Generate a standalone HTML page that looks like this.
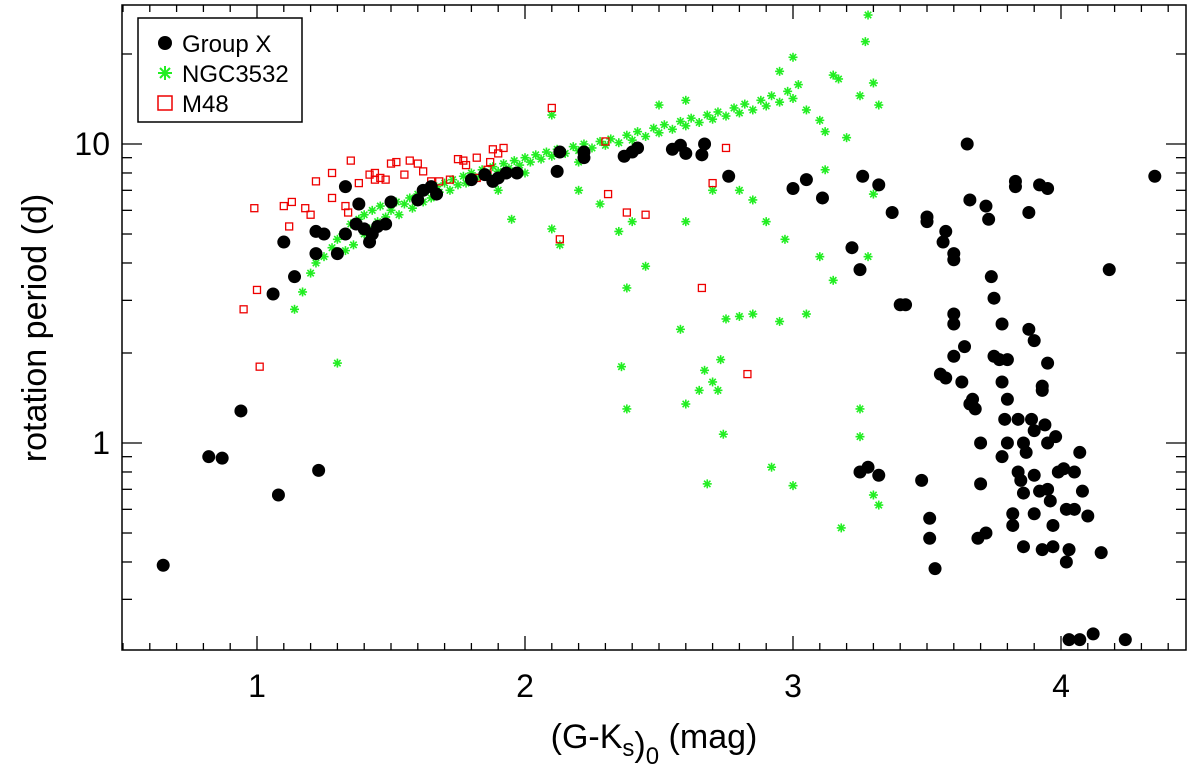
<!DOCTYPE html>
<html><head><meta charset="utf-8"><style>
body{margin:0;background:#fff}
svg{display:block;font-family:"Liberation Sans",Helvetica,Arial,sans-serif}
</style></head><body>
<svg id="chart" width="1200" height="764" viewBox="0 0 1200 764">
<rect x="0" y="0" width="1200" height="764" fill="#fff"/>
<g id="marks"></g>
<g id="axes"></g>
<rect x="122" y="5" width="1064" height="645" fill="none" stroke="#000" stroke-width="1.5"/>
<g>
<rect x="138" y="18" width="164" height="104" fill="#fff" stroke="#000" stroke-width="1.5"/>
<g><circle cx="165" cy="43" r="7" fill="#000"/><text x="182" y="52" font-size="24">Group X</text></g>
<g stroke="#22ee22" stroke-width="2"><line x1="158" y1="73" x2="172" y2="73"/><line x1="165" y1="66" x2="165" y2="80"/><line x1="160" y1="68" x2="170" y2="78"/><line x1="160" y1="78" x2="170" y2="68"/></g>
<text x="182" y="82" font-size="24">NGC3532</text>
<g><rect x="158" y="96" width="14" height="14" fill="none" stroke="#e00" stroke-width="1.5"/><text x="182" y="112" font-size="24">M48</text></g>
</g>
<text x="654" y="748" font-size="34" text-anchor="middle">(G-K<tspan font-size="24" dy="8">s</tspan><tspan dy="0">)</tspan><tspan font-size="24" dy="8">0</tspan><tspan dy="-16"> (mag)</tspan></text>
<text transform="translate(46,328) rotate(-90)" font-size="34" text-anchor="middle">rotation period (d)</text>
</svg>
<script>
const groupX=[[0.65,0.39],[0.82,0.9],[0.87,0.89],[0.94,1.28],[1.06,3.15],[1.08,0.67],[1.1,4.7],[1.14,3.6],[1.22,5.1],[1.22,4.3],[1.23,0.81],[1.25,5.0],[1.3,4.3],[1.33,5.0],[1.33,7.2],[1.37,5.4],[1.38,6.3],[1.4,5.2],[1.42,4.7],[1.43,5.0],[1.45,5.3],[1.48,5.4],[1.5,6.4],[1.6,6.5],[1.62,7.0],[1.65,7.2],[1.67,6.8],[1.8,7.6],[1.85,7.9],[1.88,7.5],[1.9,7.7],[1.93,8.0],[1.97,8.0],[2.12,8.1],[2.13,9.4],[2.22,9.0],[2.22,9.4],[2.37,9.1],[2.4,9.4],[2.42,9.7],[2.55,9.6],[2.58,9.9],[2.6,9.3],[2.67,10.0],[2.66,9.2],[2.76,7.8],[3.0,7.1],[3.05,7.6],[3.11,6.6],[3.22,4.5],[3.25,3.8],[3.26,7.8],[3.25,0.8],[3.28,0.83],[3.32,0.78],[3.32,7.3],[3.37,5.9],[3.4,2.9],[3.42,2.9],[3.5,5.7],[3.5,5.5],[3.48,0.75],[3.51,0.56],[3.51,0.48],[3.53,0.38],[3.56,4.7],[3.57,5.1],[3.55,1.7],[3.57,1.65],[3.6,4.3],[3.6,4.1],[3.6,2.7],[3.6,2.5],[3.6,1.95],[3.63,1.6],[3.64,2.1],[3.65,10],[3.66,6.5],[3.66,1.35],[3.67,1.4],[3.68,1.3],[3.69,0.48],[3.7,1.0],[3.7,0.73],[3.72,6.2],[3.73,5.6],[3.74,3.6],[3.75,3.05],[3.75,1.95],[3.72,0.5],[3.78,2.5],[3.77,1.9],[3.78,0.9],[3.78,1.6],[3.79,1.2],[3.8,1.9],[3.8,1.4],[3.8,1.0],[3.82,0.58],[3.82,0.53],[3.83,7.2],[3.83,7.5],[3.84,1.2],[3.84,0.8],[3.85,0.75],[3.86,0.68],[3.86,0.45],[3.86,1.0],[3.87,0.93],[3.88,2.4],[3.88,5.9],[3.89,1.2],[3.9,2.2],[3.9,1.1],[3.9,0.78],[3.9,0.58],[3.92,7.3],[3.93,1.55],[3.93,1.5],[3.92,0.69],[3.93,0.44],[3.94,1.15],[3.95,7.1],[3.95,1.85],[3.95,1.0],[3.95,0.7],[3.96,0.64],[3.97,0.53],[3.97,0.45],[3.98,1.05],[3.99,0.8],[4.01,0.82],[4.03,0.44],[4.05,0.6],[4.02,0.4],[4.02,0.6],[4.05,0.8],[4.08,0.69],[4.1,0.57],[4.07,0.93],[4.03,0.22],[4.07,0.22],[4.12,0.23],[4.15,0.43],[4.18,3.8],[4.24,0.22],[4.35,7.8]];
const ngc3532=[[1.17,3.2],[1.2,3.7],[1.22,4.0],[1.25,4.2],[1.28,4.5],[1.3,4.8],[1.32,5.0],[1.33,4.4],[1.35,5.4],[1.36,4.6],[1.38,5.6],[1.4,5.0],[1.4,5.8],[1.42,5.2],[1.43,6.0],[1.45,5.5],[1.46,6.2],[1.48,5.7],[1.5,6.0],[1.52,6.4],[1.53,5.8],[1.55,6.3],[1.57,6.6],[1.58,6.1],[1.6,6.8],[1.62,6.4],[1.63,7.0],[1.65,6.6],[1.67,7.2],[1.68,6.9],[1.7,7.4],[1.72,7.0],[1.73,7.6],[1.75,7.3],[1.77,7.8],[1.78,7.4],[1.8,8.0],[1.82,7.7],[1.84,8.2],[1.86,7.9],[1.88,8.4],[1.9,8.1],[1.92,8.6],[1.94,8.3],[1.96,8.8],[1.98,8.5],[2.0,9.0],[2.02,8.7],[2.04,9.2],[2.06,8.9],[2.08,9.4],[2.1,9.1],[2.12,9.6],[2.15,9.3],[2.18,9.8],[2.2,9.5],[2.22,10.0],[2.25,9.7],[2.28,10.2],[2.3,9.9],[2.32,10.4],[2.35,10.1],[2.38,10.7],[2.4,10.3],[2.42,11.0],[2.45,10.6],[2.48,11.3],[2.5,10.9],[2.52,11.6],[2.55,11.2],[2.58,11.9],[2.6,11.5],[2.62,12.2],[2.65,11.8],[2.68,12.5],[2.7,12.1],[2.72,12.8],[2.75,12.4],[2.78,13.2],[2.8,12.7],[2.82,13.6],[2.85,13.0],[2.88,14.0],[2.9,13.4],[2.92,14.5],[2.95,13.8],[2.98,15.0],[3.0,14.2],[3.02,15.8],[3.05,13.0],[3.1,12.0],[3.12,11.0],[3.15,17.0],[3.17,16.5],[3.2,10.5],[3.25,14.5],[3.3,16.0],[3.32,13.5],[3.27,22],[3.28,27],[3.0,19.5],[2.95,17.5],[2.1,12.5],[2.2,8.7],[2.5,13.5],[2.6,14],[1.9,7.0],[2.0,8.0],[1.3,1.85],[1.14,2.8],[2.13,4.6],[2.1,5.2],[1.95,5.6],[2.2,7.0],[2.28,6.3],[2.35,5.1],[2.36,1.8],[2.38,1.3],[2.38,3.3],[2.4,5.5],[2.45,3.9],[2.58,2.4],[2.6,5.5],[2.6,1.35],[2.65,1.5],[2.67,1.75],[2.68,0.73],[2.7,1.6],[2.7,7.0],[2.72,1.5],[2.73,1.9],[2.74,1.07],[2.75,2.6],[2.8,2.65],[2.8,7.0],[2.85,6.5],[2.85,2.7],[2.9,5.5],[2.92,0.83],[2.95,2.55],[3.0,0.72],[3.05,2.7],[3.1,4.2],[3.15,3.5],[3.18,0.52],[3.25,1.05],[3.28,4.2],[3.3,0.67],[3.32,0.62],[3.3,6.8],[3.25,1.3],[3.12,8.2],[2.97,4.8]];
const m48=[[0.95,2.8],[0.99,6.1],[1.0,3.25],[1.01,1.8],[1.1,6.2],[1.12,5.3],[1.13,6.4],[1.18,6.1],[1.2,5.8],[1.22,7.5],[1.28,8.0],[1.28,6.6],[1.33,6.2],[1.34,5.9],[1.35,8.8],[1.38,7.4],[1.42,7.9],[1.44,7.6],[1.44,8.0],[1.46,7.7],[1.48,7.6],[1.5,8.6],[1.52,8.7],[1.55,7.9],[1.57,8.8],[1.6,8.6],[1.62,8.1],[1.65,7.5],[1.68,7.5],[1.72,7.6],[1.75,8.9],[1.77,8.8],[1.82,9.0],[1.82,7.7],[1.87,8.7],[1.88,9.6],[1.92,9.7],[1.9,9.3],[2.1,13.2],[2.13,4.8],[2.3,10.2],[2.31,6.8],[2.38,5.9],[2.45,5.8],[2.66,3.3],[2.7,7.4],[2.75,9.7],[2.83,1.7],[1.78,8.5],[1.86,8.2]];
const xTickLabels=[1,2,3,4];
const yTickLabels=[1,10];

const NS='http://www.w3.org/2000/svg';
const X0=122,X1=1186,Y0=5,Y1=650;
function xs(v){return 257+(v-1)*268;}
function ys(v){return 443-Math.log10(v)*299;}
function mk(tag,at,parent){const e=document.createElementNS(NS,tag);for(const k in at)e.setAttribute(k,at[k]);parent.appendChild(e);return e;}
const marks=document.getElementById('marks'),axes=document.getElementById('axes');
const inside=(px,py)=>px>=X0-8&&px<=X1+8&&py>=Y0-8&&py<=Y1+8;
ngc3532.forEach(d=>{const px=xs(d[0]),py=ys(d[1]);if(!inside(px,py))return;
 const g=mk('g',{stroke:'#22ee22','stroke-width':1.6},marks);
 
 
 const r=4.5,q=3.2;mk('line',{x1:px-r,y1:py,x2:px+r,y2:py},g);mk('line',{x1:px,y1:py-r,x2:px,y2:py+r},g);
 mk('line',{x1:px-q,y1:py-q,x2:px+q,y2:py+q},g);mk('line',{x1:px-q,y1:py+q,x2:px+q,y2:py-q},g);});
m48.forEach(d=>{const px=xs(d[0]),py=ys(d[1]);
 const e=mk('rect',{x:px-3.5,y:py-3.5,width:7,height:7,fill:'none',stroke:'#e00','stroke-width':1.3},marks);
 
 });
groupX.forEach(d=>{const px=xs(d[0]),py=ys(d[1]);if(!inside(px,py))return;
 const e=mk('circle',{cx:px,cy:py,r:6.5,fill:'#000'},marks);
 
 });
for(let i=5;i<=45;i++){const v=i/10,px=xs(v);if(px<X0||px>X1)continue;const maj=i%10===0,L=maj?14:7;
 mk('line',{x1:px,y1:Y1,x2:px,y2:Y1-L,stroke:'#000','stroke-width':1.3},axes);
 mk('line',{x1:px,y1:Y0,x2:px,y2:Y0+L,stroke:'#000','stroke-width':1.3},axes);}
xTickLabels.forEach(v=>{const t=mk('text',{x:xs(v),y:697,'font-size':32,'text-anchor':'middle'},axes);t.textContent=v;
 
 });
[0.2,0.3,0.4,0.5,0.6,0.7,0.8,0.9,1,2,3,4,5,6,7,8,9,10,20,30].forEach(v=>{const py=ys(v);if(py<Y0-1||py>Y1+1)return;
 const maj=(v===1||v===10),L=maj?20:10;
 mk('line',{x1:X0,y1:py,x2:X0+L,y2:py,stroke:'#000','stroke-width':1.3},axes);
 mk('line',{x1:X1,y1:py,x2:X1-L,y2:py,stroke:'#000','stroke-width':1.3},axes);});
yTickLabels.forEach(v=>{const t=mk('text',{x:110,y:ys(v)+11,'font-size':32,'text-anchor':'end'},axes);t.textContent=v;
 
 });
</script>
</body></html>
